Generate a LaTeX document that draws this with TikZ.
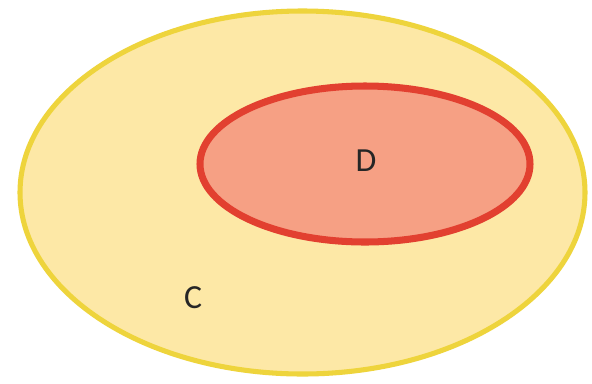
\documentclass[tikz,border=0pt]{standalone}
\usepackage{fontspec}
\setmainfont{Carlito}
\usepackage{xcolor}
\definecolor{setCfill}{RGB}{253,232,166}
\definecolor{setCline}{RGB}{238,212,60}
\definecolor{setDfill}{RGB}{246,160,132}
\definecolor{setDline}{RGB}{226,64,48}

\begin{document}
\begin{tikzpicture}[x=0.025cm,y=-0.025cm,font=\fontsize{24}{28}\selectfont]
\useasboundingbox (0,0) rectangle (592,383);
\fill[white] (0,0) rectangle (592,383);
\draw[setCline,line width=3.6pt,fill=setCfill] (302.5,192.5) ellipse [x radius=282.5,y radius=181.5];
\draw[setDline,line width=5pt,fill=setDfill] (365,164) ellipse [x radius=165,y radius=78];
\node[text=black!85] (labD) at (366,161) {D};
\node[text=black!85] (labC) at (193,298) {C};
\end{tikzpicture}
\end{document}
